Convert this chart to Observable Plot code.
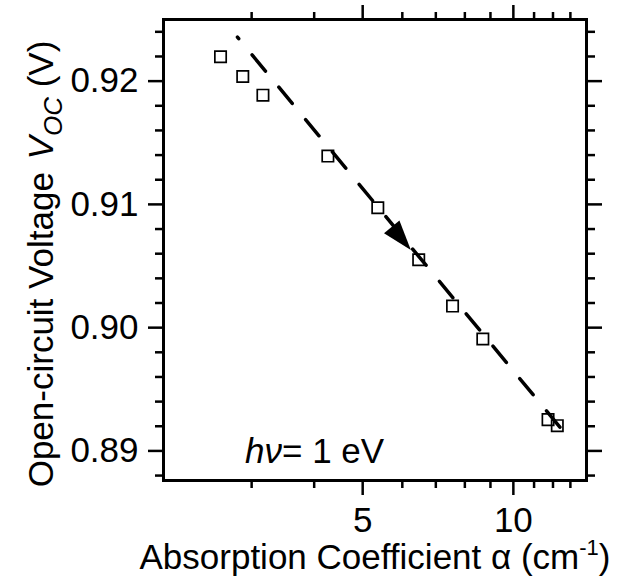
<!DOCTYPE html>
<html><head><meta charset="utf-8">
<script src="https://cdn.jsdelivr.net/npm/d3@7"></script>
<script src="https://cdn.jsdelivr.net/npm/@observablehq/plot@0.6"></script>
<style>
body{margin:0;background:#fff}
#chart svg{font-family:"Liberation Sans",Arial,Helvetica,sans-serif;}
</style>
</head><body><div id="chart"></div>
<script>
// Data
const alpha = [2.60, 2.88, 3.16, 4.26, 5.36, 6.47, 7.56, 8.69, 11.73, 12.24];
const voc   = [0.92198, 0.92038, 0.91886, 0.91392, 0.90973, 0.90551, 0.90175, 0.89908, 0.89254, 0.89205];
const trendAlpha = [2.81, 12.4];
const trendVoc   = [0.92357, 0.89191];
const arrowAlpha = [6.24];
const arrowVoc   = [0.9063];
const noteAlpha = [2.91];
const noteVoc   = [0.8891];
const noteText  = ["hν= 1 eV"];
const xMajor = [5, 10];
const xMinor = [3, 4, 6, 7, 8, 9, 11, 12, 13];
const yMajor = [0.89, 0.90, 0.91, 0.92];
const yMinor = [0.888, 0.892, 0.894, 0.896, 0.898, 0.902, 0.904, 0.906, 0.908, 0.912, 0.914, 0.916, 0.918, 0.922, 0.924];
const xDomain = [2, 14];
const yDomain = [0.8876, 0.925];
const xLabel = "Absorption Coefficient α (cm-1)";
const yLabel = "Open-circuit Voltage VOC (V)";

const points = alpha.map((a, i) => ({a, v: voc[i]}));
const trend = trendAlpha.map((a, i) => ({a, v: trendVoc[i]}));
const arrowTip = arrowAlpha.map((a, i) => ({a, v: arrowVoc[i]}));
const note = noteAlpha.map((a, i) => ({a, v: noteVoc[i], t: noteText[i]}));

const FS = 35;
const blank = () => "";

function arrowSymbol(angle) {
  const L = 30, W = 20;
  const ux = Math.cos(angle), uy = Math.sin(angle);
  const nx = -uy, ny = ux;
  return {
    draw(ctx) {
      ctx.moveTo(0, 0);
      ctx.lineTo(-L * ux + W / 2 * nx, -L * uy + W / 2 * ny);
      ctx.lineTo(-L * ux - W / 2 * nx, -L * uy - W / 2 * ny);
      ctx.closePath();
    }
  };
}

function build(angle) {
  return Plot.plot({
    width: 622,
    height: 583,
    marginLeft: 163,
    marginRight: 36,
    marginTop: 19,
    marginBottom: 103,
    style: {fontSize: FS + "px", fontFamily: '"Liberation Sans", Arial, sans-serif', background: "#fff", color: "#000"},
    x: {type: "log", domain: xDomain, label: null},
    y: {domain: yDomain, label: null},
    marks: [
      // axes: major and minor ticks on all four sides
      Plot.axisX(xMajor, {anchor: "bottom", tickSize: 15, tickPadding: 12, strokeWidth: 2.5, tickFormat: d => String(d), label: null, fontSize: FS}),
      Plot.axisX(xMinor, {anchor: "bottom", tickSize: 8, strokeWidth: 2.5, tickFormat: blank, label: null}),
      Plot.axisX(xMajor, {anchor: "top", tickSize: 15, strokeWidth: 2.5, tickFormat: blank, label: null}),
      Plot.axisX(xMinor, {anchor: "top", tickSize: 8, strokeWidth: 2.5, tickFormat: blank, label: null}),
      Plot.axisY(yMajor, {anchor: "left", tickSize: 15, tickPadding: 10, strokeWidth: 2.5, tickFormat: d3.format(".2f"), label: null, fontSize: FS}),
      Plot.axisY(yMinor, {anchor: "left", tickSize: 8, strokeWidth: 2.5, tickFormat: blank, label: null}),
      Plot.axisY(yMajor, {anchor: "right", tickSize: 15, strokeWidth: 2.5, tickFormat: blank, label: null}),
      Plot.axisY(yMinor, {anchor: "right", tickSize: 8, strokeWidth: 2.5, tickFormat: blank, label: null}),
      Plot.frame({stroke: "black", strokeWidth: 3}),
      // dashed guide line with arrow head
      Plot.line(trend, {x: "a", y: "v", stroke: "black", strokeWidth: 3.5, strokeDasharray: "21,21", strokeDashoffset: 19}),
      Plot.dot(arrowTip, {x: "a", y: "v", symbol: arrowSymbol(angle), r: 10, fill: "black", stroke: "none"}),
      // data squares
      Plot.dot(points, {x: "a", y: "v", symbol: "square", r: 6.4, stroke: "black", strokeWidth: 1.7, fill: "none"}),
      // annotation
      Plot.text(note, {x: "a", y: "v", text: "t", textAnchor: "start", lineAnchor: "middle", dy: -10, fontSize: FS, fill: "black"}),
      // axis titles
      Plot.text([xLabel], {frameAnchor: "bottom", text: d => d, textAnchor: "middle", dy: 77, lineAnchor: "middle", fontSize: FS, fill: "black"}),
      Plot.text([yLabel], {frameAnchor: "left", text: d => d, textAnchor: "middle", rotate: -90, dx: -122, dy: 14, lineAnchor: "middle", fontSize: FS, fill: "black"})
    ]
  });
}

const probe = build(0);
const sx = probe.scale("x"), sy = probe.scale("y");
const ang = Math.atan2(sy.apply(trendVoc[1]) - sy.apply(trendVoc[0]), sx.apply(trendAlpha[1]) - sx.apply(trendAlpha[0]));
const chart = build(ang);

// rich text (italic, sub/superscripts)
const NS = "http://www.w3.org/2000/svg";
function rich(el, parts) {
  while (el.firstChild) el.removeChild(el.firstChild);
  for (const p of parts) {
    const t = document.createElementNS(NS, "tspan");
    t.textContent = p.t;
    if (p.italic) t.setAttribute("font-style", "italic");
    if (p.size) t.setAttribute("font-size", p.size);
    if (p.dy) t.setAttribute("dy", p.dy);
    if (p.dx) t.setAttribute("dx", p.dx);
    el.appendChild(t);
  }
}
chart.querySelectorAll("text").forEach(el => {
  const s = el.textContent;
  if (s === noteText[0]) {
    rich(el, [{t: "hν", italic: true}, {t: "= 1 eV"}]);
  } else if (s === xLabel) {
    rich(el, [{t: "Absorption Coefficient α (cm"}, {t: "-1", size: 22, dy: -14}, {t: ")", dy: 14}]);
  } else if (s === yLabel) {
    rich(el, [{t: "Open-circuit Voltage "}, {t: "V", italic: true, dx: 3}, {t: "OC", italic: true, size: 26, dy: 9}, {t: " (V)", dy: -9}]);
  }
});
document.getElementById("chart").appendChild(chart);
</script>
</body></html>
